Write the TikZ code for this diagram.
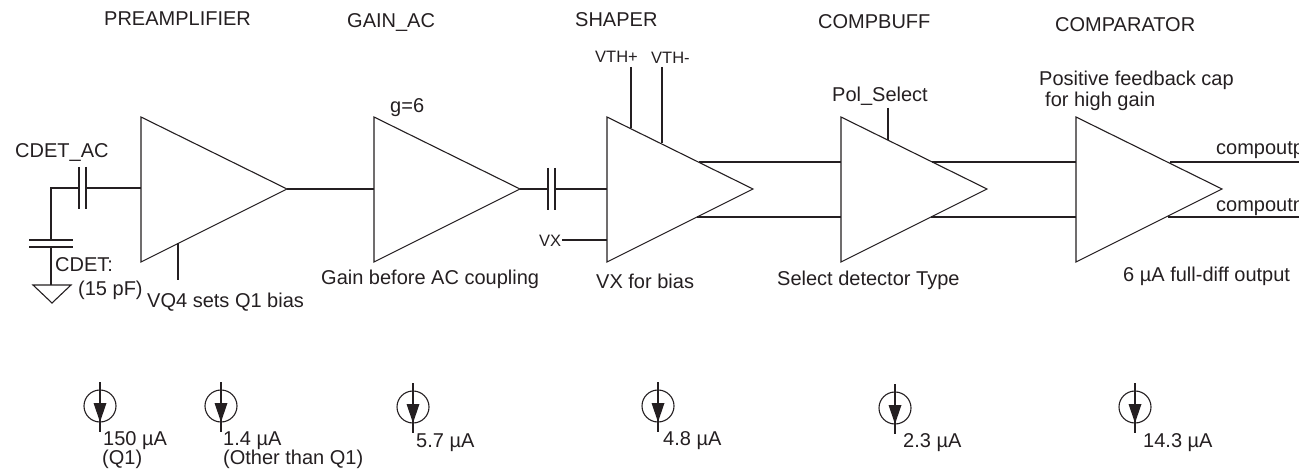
\documentclass[tikz,border=0pt]{standalone}
\usepackage{fontspec}
\setmainfont{Liberation Sans}
\usepackage{tikz}
\usetikzlibrary{arrows.meta, calc}
\definecolor{wireGray}{rgb}{0.14, 0.12, 0.13}
\newcommand{\AmpStage}[2]{
	\coordinate (#1-top) at (#2,117);
	\coordinate (#1-bot) at (#2,262);
	\coordinate (#1-tip) at ($ (#2,189)+(146,0) $);
	\coordinate (#1-in) at (#2,189);
	\draw[wire, line join=miter] (#1-top) -- (#1-tip) -- (#1-bot) -- cycle;
}
\newcommand{\CurrentSource}[3]{
	\coordinate (#1) at (#2,#3);
	\draw[wire] (#1) circle (16);
	\draw[wire] ($ (#1)+(0,-24) $) -- ($ (#1)+(0,26) $);
	\fill[wireGray] ($ (#1)+(-6.5,-3) $) -- ($ (#1)+(6.5,-3) $) -- ($ (#1)+(0,16) $) -- cycle;
}
\tikzset{
	wire/.style={draw=wireGray, line width=1.1pt},
	lbl/.style={anchor=base west, inner sep=0pt, text=wireGray, font=\fontsize{20}{22}\selectfont},
	smalllbl/.style={lbl, font=\fontsize{16.5}{18}\selectfont}
}

\begin{document}
\begin{tikzpicture}[x=1pt, y=-1pt, line cap=butt]

	\useasboundingbox (0,0) rectangle (1299,473);
	\clip (0,0) rectangle (1299,473);

	\AmpStage{preamp}{141}
	\AmpStage{gainac}{374}
	\AmpStage{shaper}{607}
	\AmpStage{compbuff}{841}
	\AmpStage{comparator}{1076}

	% titles
	\node[lbl] (preampTitle) at (104,26) {PREAMPLIFIER};
	\node[lbl] (gainacTitle) at (347,28) {GAIN\_AC};
	\node[lbl] (shaperTitle) at (575,27) {SHAPER};
	\node[lbl] (compbuffTitle) at (818,29) {COMPBUFF};
	\node[lbl] (comparatorTitle) at (1055,32) {COMPARATOR};

	% input network
	\node[lbl] (cdetacLabel) at (15,158) {CDET\_AC};
	\coordinate (corner) at (51,188);
	\coordinate (plateA) at (79,188);
	\coordinate (plateB) at (86,188);
	\coordinate (plateC) at (51,240);
	\coordinate (plateD) at (51,247);
	\coordinate (gnd) at (52,285);
	\draw[wire] (plateC) -- (corner) -- (plateA);
	\draw[wire] (plateB) -- (plateB -| preamp-in);
	\draw[wire] ($ (plateA)+(0,-21) $) -- ($ (plateA)+(0,21) $);
	\draw[wire] ($ (plateB)+(0,-21) $) -- ($ (plateB)+(0,21) $);
	\draw[wire] ($ (plateC)+(-22,0) $) -- ($ (plateC)+(22,0) $);
	\draw[wire] ($ (plateD)+(-22,0) $) -- ($ (plateD)+(22,0) $);
	\draw[wire] (plateD) -- (plateD |- gnd);
	\draw[wire] ($ (gnd)+(-19,0) $) -- ($ (gnd)+(19,0) $) -- ($ (gnd)+(0,18) $) -- cycle;
	\node[lbl] (cdetLabel) at (55,272) {CDET:};
	\node[lbl] (cdetValue) at (78,295) {(15 pF)};
	\draw[wire] (178,243) -- (178,280);
	\node[lbl] (vqLabel) at (147,308) {VQ4 sets Q1 bias};

	% signal path
	\draw[wire] (preamp-tip) -- (gainac-in);
	\node[lbl] (gLabel) at (390,113) {g=6};
	\node[lbl] (gainLabel) at (321,284) {Gain before AC coupling};
	\coordinate (plateE) at (548,189);
	\coordinate (plateF) at (555,189);
	\draw[wire] (gainac-tip) -- (plateE);
	\draw[wire] (plateF) -- (shaper-in);
	\draw[wire] ($ (plateE)+(0,-21) $) -- ($ (plateE)+(0,21) $);
	\draw[wire] ($ (plateF)+(0,-21) $) -- ($ (plateF)+(0,21) $);

	% shaper
	\node[smalllbl] (vxLabel) at (539,247) {VX};
	\draw[wire] (562,240) -- (607,240);
	\node[lbl] (vxBias) at (596,288) {VX for bias};
	\node[smalllbl] (vthpLabel) at (595,63) {VTH+};
	\node[smalllbl] (vthmLabel) at (651,64) {VTH-};
	\draw[wire] (631,67) -- (631,128);
	\draw[wire] (662,67) -- (662,143);

	% differential lines
	\draw[wire] (699,162) -- (841,162);
	\draw[wire] (697,217) -- (841,217);
	\draw[wire] (932,162) -- (1076,162);
	\draw[wire] (931,217) -- (1076,217);
	\draw[wire] (1170,162) -- (1299,162);
	\draw[wire] (1168,217) -- (1299,217);

	% compbuff and comparator
	\node[lbl] (polLabel) at (832,102) {Pol\_Select};
	\draw[wire] (888,108) -- (888,140);
	\node[lbl] (selectLabel) at (777,285) {Select detector Type};
	\node[lbl] (feedbackA) at (1039,86) {Positive feedback cap};
	\node[lbl] (feedbackB) at (1045,107) {for high gain};
	\node[lbl] (compoutp) at (1216,155) {compoutp};
	\node[lbl] (compoutn) at (1216,212) {compoutn};
	\node[lbl] (fullDiff) at (1123,282) {6 µA full-diff output};

	% bias currents
	\CurrentSource{iQ}{100}{406}
	\CurrentSource{iOther}{221}{406}
	\CurrentSource{iGain}{413}{407}
	\CurrentSource{iShaper}{658}{406}
	\CurrentSource{iBuff}{895}{408}
	\CurrentSource{iComp}{1135}{407}
	\node[lbl] (iQLabel) at (103,445) {150 µA};
	\node[lbl] (iQNote) at (102,464) {(Q1)};
	\node[lbl] (iOtherLabel) at (223,445) {1.4 µA};
	\node[lbl] (iOtherNote) at (223,464) {(Other than Q1)};
	\node[lbl] (iGainLabel) at (416,447) {5.7 µA};
	\node[lbl] (iShaperLabel) at (663,445) {4.8 µA};
	\node[lbl] (iBuffLabel) at (903,447) {2.3 µA};
	\node[lbl] (iCompLabel) at (1143,447) {14.3 µA};

\end{tikzpicture}
\end{document}
